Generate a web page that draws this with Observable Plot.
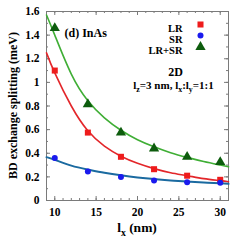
<!DOCTYPE html>
<html><head><meta charset="utf-8">
<script src="https://cdn.jsdelivr.net/npm/d3@7"></script>
<script src="https://cdn.jsdelivr.net/npm/@observablehq/plot@0.6"></script>
<style>body{margin:0;background:#fff}</style>
</head><body><div id="chart"></div>
<script>
const lx = [10, 14, 18, 22, 26, 30];
const lrValues = [1.10, 0.575, 0.37, 0.265, 0.21, 0.175];
const srValues = [0.36, 0.245, 0.20, 0.17, 0.155, 0.15];
const lrsrValues = [1.46, 0.815, 0.575, 0.44, 0.37, 0.325];

const fitX = [9, 10, 12, 14, 16, 18, 20, 22, 24, 26, 28, 30, 31];
const lrFit = [1.25, 1.08, 0.80, 0.59, 0.46, 0.375, 0.315, 0.27, 0.235, 0.21, 0.185, 0.168, 0.158];
const srFit = [0.367, 0.345, 0.295, 0.262, 0.235, 0.213, 0.195, 0.181, 0.17, 0.16, 0.152, 0.145, 0.141];
const lrsrFit = [1.57, 1.40, 1.07, 0.845, 0.70, 0.595, 0.515, 0.455, 0.405, 0.365, 0.33, 0.30, 0.285];

const xMajor = [10, 15, 20, 25, 30];
const xMinor = d3.range(9, 32);
const yMajor = [0, 0.2, 0.4, 0.6, 0.8, 1, 1.2, 1.4, 1.6];
const yMinor = d3.range(0, 1.61, 0.1);
const seriesNames = ["LR", "SR", "LR+SR"];

const W = 245, H = 245, mL = 46, mR = 17, mT = 11, mB = 45;
const iw = W - mL - mR, ih = H - mT - mB;

const pts = (vals) => lx.map((x, i) => ({x, y: vals[i]}));
const fit = (vals) => fitX.map((x, i) => ({x, y: vals[i]}));

const cLR = "#ee1c1c", cSR = "#1a1aee", cLRSR = "#0d5c0d";
const lLR = "#e3262a", lSR = "#1a6aa0", lLRSR = "#3fae35";
const frameC = "#7a7a7a";
const legendDy = [13, 24, 35.5];

const svg = Plot.plot({
  width: W, height: H, marginLeft: mL, marginRight: mR, marginTop: mT, marginBottom: mB,
  x: {domain: [9, 31]},
  y: {domain: [0, 1.6]},
  style: {fontFamily: "Liberation Serif", fontWeight: "bold", fontSize: "11.5px", background: "white", color: "black"},
  marks: [
    Plot.tickX(xMinor, {x: d => d, insetTop: ih - 2, stroke: frameC}),
    Plot.tickX(xMinor, {x: d => d, insetBottom: ih - 2, stroke: frameC}),
    Plot.tickX(xMajor, {x: d => d, insetTop: ih - 4, stroke: frameC}),
    Plot.tickX(xMajor, {x: d => d, insetBottom: ih - 4, stroke: frameC}),
    Plot.tickY(yMinor, {y: d => d, insetRight: iw - 2, stroke: frameC}),
    Plot.tickY(yMinor, {y: d => d, insetLeft: iw - 2, stroke: frameC}),
    Plot.tickY(yMajor, {y: d => d, insetRight: iw - 4, stroke: frameC}),
    Plot.tickY(yMajor, {y: d => d, insetLeft: iw - 4, stroke: frameC}),
    Plot.frame({stroke: frameC}),
    Plot.axisX({ticks: xMajor, tickSize: 0, tickPadding: 7, label: null, fontSize: 11.5}),
    Plot.axisY({ticks: yMajor, tickSize: 0, tickPadding: 7, label: null, fontSize: 11.5, tickFormat: d => String(+d.toFixed(1))}),
    Plot.line(fit(lrFit), {x: "x", y: "y", stroke: lLR, strokeWidth: 1.6, curve: "natural"}),
    Plot.line(fit(lrsrFit), {x: "x", y: "y", stroke: lLRSR, strokeWidth: 1.6, curve: "natural"}),
    Plot.line(fit(srFit), {x: "x", y: "y", stroke: lSR, strokeWidth: 2, curve: "natural"}),
    Plot.dot(pts(lrValues), {x: "x", y: "y", symbol: "square", fill: cLR, r: 3.4}),
    Plot.dot(pts(srValues), {x: "x", y: "y", symbol: "circle", fill: cSR, r: 3}),
    Plot.dot(pts(lrsrValues), {x: "x", y: "y", symbol: "triangle", fill: cLRSR, r: 3.8}),
    // legend
    ...seriesNames.map((name, i) => Plot.text([name], {frameAnchor: "top-right", dx: -46, dy: legendDy[i], textAnchor: "end", fontSize: 10.5})),
    Plot.dot([0], {frameAnchor: "top-right", dx: -28, dy: legendDy[0], symbol: "square", fill: cLR, r: 3.4}),
    Plot.dot([0], {frameAnchor: "top-right", dx: -28, dy: legendDy[1], symbol: "circle", fill: cSR, r: 3}),
    Plot.dot([0], {frameAnchor: "top-right", dx: -28, dy: legendDy[2], symbol: "triangle", fill: cLRSR, r: 3.8}),
    Plot.text(["2D"], {frameAnchor: "top-right", dx: -53, dy: 56, textAnchor: "middle", fontSize: 12}),
    Plot.text(["l_z=3 nm, l_x:l_y=1:1"], {frameAnchor: "top-right", dx: -55, dy: 70, textAnchor: "middle", fontSize: 11}),
    Plot.text(["(d) InAs"], {frameAnchor: "top-left", dx: 18, dy: 17, textAnchor: "start", fontSize: 12})
  ]
});

// axis labels
const s = d3.select(svg);
s.append("text").attr("transform", `translate(14,${mT + ih / 2}) rotate(-90)`)
  .attr("text-anchor", "middle").attr("dominant-baseline", "middle")
  .attr("font-family", "Liberation Serif").attr("font-weight", "bold").attr("font-size", 12)
  .text("BD exchange splitting (meV)");
s.append("text").attr("x", mL + iw / 2).attr("y", 232)
  .attr("text-anchor", "middle")
  .attr("font-family", "Liberation Serif").attr("font-weight", "bold").attr("font-size", 13.5)
  .text("l_x (nm)");

// subscripts
Array.from(svg.querySelectorAll("text")).forEach(t => {
  if (t.children.length || !t.textContent.includes("_")) return;
  const str = t.textContent;
  const fs = parseFloat(t.getAttribute("font-size") || getComputedStyle(t).fontSize) || 11;
  t.textContent = "";
  const parts = str.split(/_(\w)/);
  let shifted = false;
  parts.forEach((p, i) => {
    if (!p) return;
    const ts = document.createElementNS("http://www.w3.org/2000/svg", "tspan");
    if (i % 2 === 1) {
      ts.setAttribute("font-size", fs * 0.72);
      ts.setAttribute("dy", fs * 0.28);
      shifted = true;
    } else if (shifted) {
      ts.setAttribute("dy", -fs * 0.28);
      shifted = false;
    }
    ts.textContent = p;
    t.appendChild(ts);
  });
});

document.getElementById("chart").appendChild(svg);
</script>
</body></html>
